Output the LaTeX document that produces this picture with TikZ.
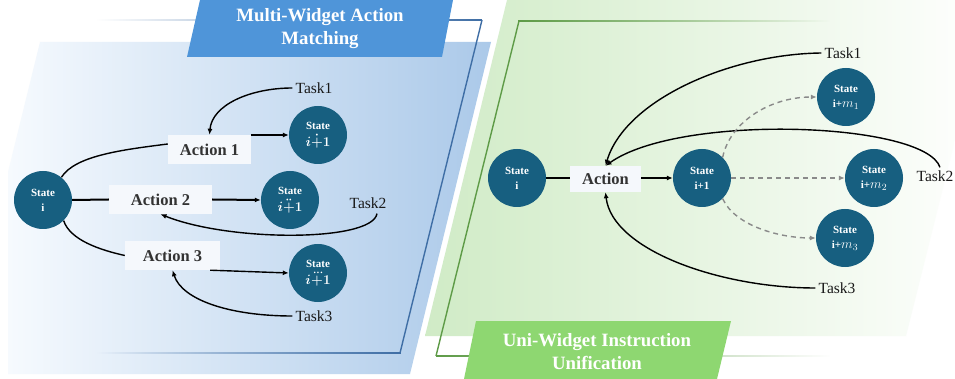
\RequirePackage{fix-cm}
\documentclass[tikz,border=0pt]{standalone}
\usepackage{amsmath}
\usepackage{fontspec}
\setmainfont{Liberation Serif}
\usetikzlibrary{arrows.meta,fadings,calc}
\definecolor{stateblue}{HTML}{175F80}
\definecolor{bannerblue}{HTML}{4F95D9}
\definecolor{bluepanelL}{HTML}{F6FAFE}
\definecolor{bluepanelR}{HTML}{ABC9E9}
\definecolor{blueline}{HTML}{3F6EA5}
\definecolor{greenL}{HTML}{D0EBC6}
\definecolor{greenM}{HTML}{DDF1D6}
\definecolor{greenline}{HTML}{5E9B47}
\definecolor{bannergreen}{HTML}{8ED771}
\definecolor{actfill}{HTML}{F5F8FC}
\definecolor{acttext}{HTML}{333333}
\definecolor{dashgray}{HTML}{8A8A8A}
\tikzfading[name=fadeleft, left color=transparent!100, right color=transparent!0]
\tikzfading[name=faderight, left color=transparent!0, right color=transparent!100]
\newcommand{\mth}[1]{{\fontsize{13.5}{15}\selectfont$#1$}}
\tikzset{
  st/.style={circle, fill=stateblue, minimum size=58pt, inner sep=0pt, text=white,
    align=center, font=\bfseries\fontsize{11}{15}\selectfont},
  actbox/.style={fill=actfill, text=acttext, font=\bfseries\fontsize{16.5}{18}\selectfont,
    minimum height=29pt, inner sep=0pt},
  tasklbl/.style={font=\fontsize{15.5}{17}\selectfont, inner sep=3pt, text=black!90},
  bannertxt/.style={text=white, align=center, font=\bfseries\fontsize{18.8}{23.5}\selectfont},
  plainline/.style={line width=1.4pt, draw=black},
  thickline/.style={line width=2pt, draw=black},
  conn/.style={line width=1.4pt, draw=black, -{Latex[length=6pt,width=5pt]}},
  thickconn/.style={line width=2pt, draw=black, -{Latex[length=6pt,width=5pt]}},
  dashconn/.style={line width=1.4pt, draw=dashgray, dash pattern=on 5pt off 4pt,
    -{Latex[length=6pt,width=5pt]}},
}
\begin{document}
\begin{tikzpicture}[x=1pt,y=-1pt]
\useasboundingbox (0,0) rectangle (955,379);
\fill[white] (0,0) rectangle (955,379);
\begin{scope}
\clip (0,0) rectangle (955,379);
% ---------- left panel ----------
\shade[left color=bluepanelL, right color=bluepanelR]
  (40,42) -- (491,42) -- (410,374) -- (8,374) -- (8,172) -- cycle;
\fill[blueline, path fading=fadeleft, fit fading=true] (97,19.3) rectangle (482.5,20.7);
\fill[blueline, path fading=fadeleft, fit fading=true] (97,352.3) rectangle (400.5,353.7);
\draw[blueline, line width=1.4pt] (482,20) -- (400,353);
\fill[bannerblue] (200,0) -- (453,0) -- (442,57) -- (187,57) -- cycle;
\node[bannertxt] (bt1) at (320,28.5) {Multi-Widget Action\\Matching};
% ---------- right panel ----------
\shade[left color=greenL, middle color=greenM, right color=white]
  (507,0) -- (990,0) -- (906,336) -- (425,336) -- cycle;
\fill[greenline, path fading=faderight, fit fading=true] (518.5,20.3) rectangle (830,21.7);
\fill[greenline, path fading=faderight, fit fading=true] (435.5,355.3) rectangle (830,356.7);
\draw[greenline, line width=1.4pt] (519,21) -- (436,356);
\fill[bannergreen] (476,321) -- (731,321) -- (717,379) -- (464,379) -- cycle;
\node[bannertxt] (bt2) at (597,351.5) {Uni-Widget Instruction\\Unification};
\end{scope}
% ---------- left diagram ----------
\node[st] (s0) at (43,200) {State\\i};
\node[actbox, minimum width=83pt] (a1) at (209.5,149.5) {Action 1};
\node[actbox, minimum width=103pt] (a2) at (160.5,199.5) {Action 2};
\node[actbox, minimum width=95pt] (a3) at (172.5,255.5) {Action 3};
\node[st] (st1) at (318,135) {State\\[1.5pt]\mth{\boldsymbol{i\dot{+}1}}};
\node[st] (st2) at (290,200) {State\\[1.5pt]\mth{\boldsymbol{i\ddot{+}1}}};
\node[st] (st3) at (318,273) {State\\[1.5pt]\mth{\boldsymbol{i\dddot{+}1}}};
\node[tasklbl] (t1) at (314,88) {Task1};
\node[tasklbl] (t2) at (368,203) {Task2};
\node[tasklbl] (t3) at (314,316) {Task3};
\draw[plainline] (s0.51) .. controls (75,156) and (120,150) .. ([yshift=5.5pt]a1.west);
\draw[conn] (t1.west) .. controls (250,88) and (212,105) .. (a1.north);
\draw[conn] (a1.east |- st1.west) -- (st1.west);
\draw[thickline] (s0.east) -- (a2.west);
\draw[thickconn] (a2.east) -- (st2.west);
\draw[conn] ([xshift=9pt,yshift=-2pt]t2.south) .. controls (372,242) and (230,242) .. (a2.south);
\draw[plainline] (s0.-45) .. controls (70,240) and (100,250) .. (a3.west);
\draw[conn] ([xshift=-10pt]a3.south east) -- (st3.west);
\draw[conn] (t3.west) .. controls (230,316) and (182,300) .. (a3.south);
% ---------- right diagram ----------
\node[st] (r0) at (517,178) {State\\i};
\node[actbox, minimum width=71pt, minimum height=26pt] (ra) at (605.5,179) {Action};
\node[st] (r1) at (702,178) {State\\i+1};
\node[st] (m1) at (846,97) {State\\i+\mth{m_{1}}};
\node[st] (m2) at (874,178) {State\\i+\mth{m_{2}}};
\node[st] (m3) at (845,238) {State\\i+\mth{m_{3}}};
\node[tasklbl] (rt1) at (843,53) {Task1};
\node[tasklbl] (rt2) at (935,176) {Task2};
\node[tasklbl] (rt3) at (837,288) {Task3};
\draw[thickline] (r0.east) -- (r0.east -| ra.west);
\draw[thickconn] (ra.east |- r1.west) -- (r1.west);
\draw[conn] (rt1.west) .. controls (730,54) and (625,100) .. (ra.north);
\draw[conn] ([xshift=5pt]rt2.north) .. controls (925,122) and (680,113) .. (ra.north);
\draw[conn] (rt3.west) .. controls (720,288) and (612,250) .. (ra.south);
\draw[dashconn] (r1.45) .. controls (730,122) and (770,97) .. (m1.west);
\draw[dashconn] (r1.east) -- (m2.west);
\draw[dashconn] (r1.-45) .. controls (735,226) and (780,238) .. (m3.west);
\end{tikzpicture}
\end{document}
